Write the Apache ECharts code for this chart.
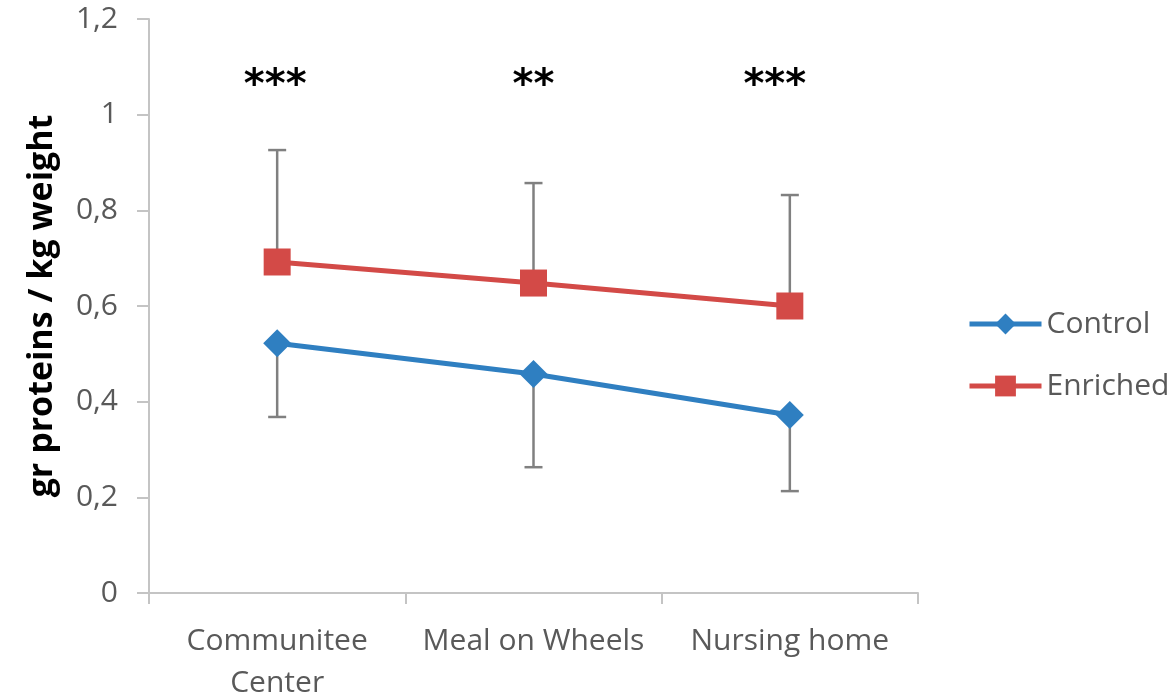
<!DOCTYPE html>
<html>
<head>
<meta charset="utf-8">
<script src="https://cdn.jsdelivr.net/npm/echarts@6/dist/echarts.min.js"></script>
<style>
  html, body { margin: 0; padding: 0; background: #fff; }
  #chart { width: 1176px; height: 698px; }
</style>
</head>
<body>
<div id="chart"></div>
<script>
// Sites and protein intake (g protein per kg body weight)
const categories = ['Communitee\nCenter', 'Meal on Wheels', 'Nursing home'];
const controlMean = [0.522, 0.458, 0.372];
const controlErr = [0.154, 0.195, 0.159];   // drawn downward
const enrichedMean = [0.692, 0.648, 0.600];
const enrichedErr = [0.234, 0.209, 0.232];  // drawn upward
const sigLabels = ['***', '**', '***'];
const sigLevel = 1.078;
const yTicks = { min: 0, max: 1.2, interval: 0.2 };

// horizontal nudge (px) of each significance label
const sigShift = [-2, 0, -15];

const blue = '#2f7fc1';
const red = '#d34a47';
const axisGray = '#c4c4c4';
const textGray = '#595959';
const font = 'Open Sans';

// error bars as [categoryIndex, low, high]
const errBars = [];
controlMean.forEach((m, i) => errBars.push([i, m - controlErr[i], m]));
enrichedMean.forEach((m, i) => errBars.push([i, m, m + enrichedErr[i]]));

const chart = echarts.init(document.getElementById('chart'), null, { renderer: 'canvas' });

chart.setOption({
  animation: false,
  backgroundColor: '#fff',
  grid: { left: 149, right: 258, top: 19, bottom: 105, containLabel: false, outerBoundsMode: 'none' },
  legend: {
    orient: 'vertical',
    left: 962,
    top: 304,
    itemGap: 32,
    itemWidth: 72,
    itemHeight: 26,
    lineStyle: { width: 5 },
    textStyle: { fontFamily: font, fontSize: 30, color: textGray, padding: [0, 0, 0, 0] },
    data: ['Control', 'Enriched']
  },
  xAxis: {
    type: 'category',
    data: categories,
    boundaryGap: true,
    axisLine: { lineStyle: { color: axisGray, width: 2 } },
    axisTick: { show: true, interval: 0, length: 11, alignWithLabel: false, lineStyle: { color: axisGray, width: 2 } },
    axisLabel: { interval: 0, hideOverlap: false, fontFamily: font, fontSize: 30, color: textGray, margin: 27, lineHeight: 42 },
    splitLine: { show: false }
  },
  yAxis: {
    type: 'value',
    min: yTicks.min,
    max: yTicks.max,
    interval: yTicks.interval,
    axisLine: { show: true, lineStyle: { color: axisGray, width: 2 } },
    axisTick: { show: true, length: 12, lineStyle: { color: axisGray, width: 2 } },
    axisLabel: {
      fontFamily: font, fontSize: 30, color: textGray, margin: 31,
      formatter: v => String(Math.round(v * 10) / 10).replace('.', ',')
    },
    splitLine: { show: false }
  },
  graphic: [{
    type: 'text',
    x: 42,
    y: 306,
    rotation: Math.PI / 2,
    style: {
      text: 'gr proteins / kg weight',
      font: 'bold 34px "Open Sans"',
      fill: '#000',
      align: 'center',
      verticalAlign: 'middle'
    }
  }],
  series: [
    {
      name: 'errors',
      type: 'custom',
      z: 1,
      silent: true,
      data: errBars,
      renderItem: (params, api) => {
        const i = api.value(0);
        const lo = api.coord([i, api.value(1)]);
        const hi = api.coord([i, api.value(2)]);
        const x = lo[0];
        const cap = 9;
        const style = { stroke: '#808080', lineWidth: 2.5 };
        return {
          type: 'group',
          children: [
            { type: 'line', shape: { x1: x, y1: lo[1], x2: x, y2: hi[1] }, style },
            { type: 'line', shape: { x1: x - cap, y1: lo[1], x2: x + cap, y2: lo[1] }, style },
            { type: 'line', shape: { x1: x - cap, y1: hi[1], x2: x + cap, y2: hi[1] }, style }
          ]
        };
      }
    },
    {
      name: 'Control',
      type: 'line',
      z: 3,
      data: controlMean,
      symbol: 'diamond',
      symbolSize: 28,
      itemStyle: { color: blue },
      lineStyle: { color: blue, width: 5 }
    },
    {
      name: 'Enriched',
      type: 'line',
      z: 3,
      data: enrichedMean,
      symbol: 'rect',
      symbolSize: 27,
      itemStyle: { color: red },
      lineStyle: { color: red, width: 5 }
    },
    {
      name: 'significance',
      type: 'custom',
      silent: true,
      data: sigLabels.map((s, i) => [i, sigLevel]),
      renderItem: (params, api) => {
        const p = api.coord([api.value(0), api.value(1)]);
        return {
          type: 'text',
          x: p[0] + sigShift[params.dataIndex],
          y: p[1] + 9,
          style: {
            text: sigLabels[params.dataIndex],
            font: 'bold 40px "DejaVu Sans"',
            fill: '#000',
            align: 'center',
            verticalAlign: 'middle'
          }
        };
      }
    }
  ]
});
</script>
</body>
</html>
